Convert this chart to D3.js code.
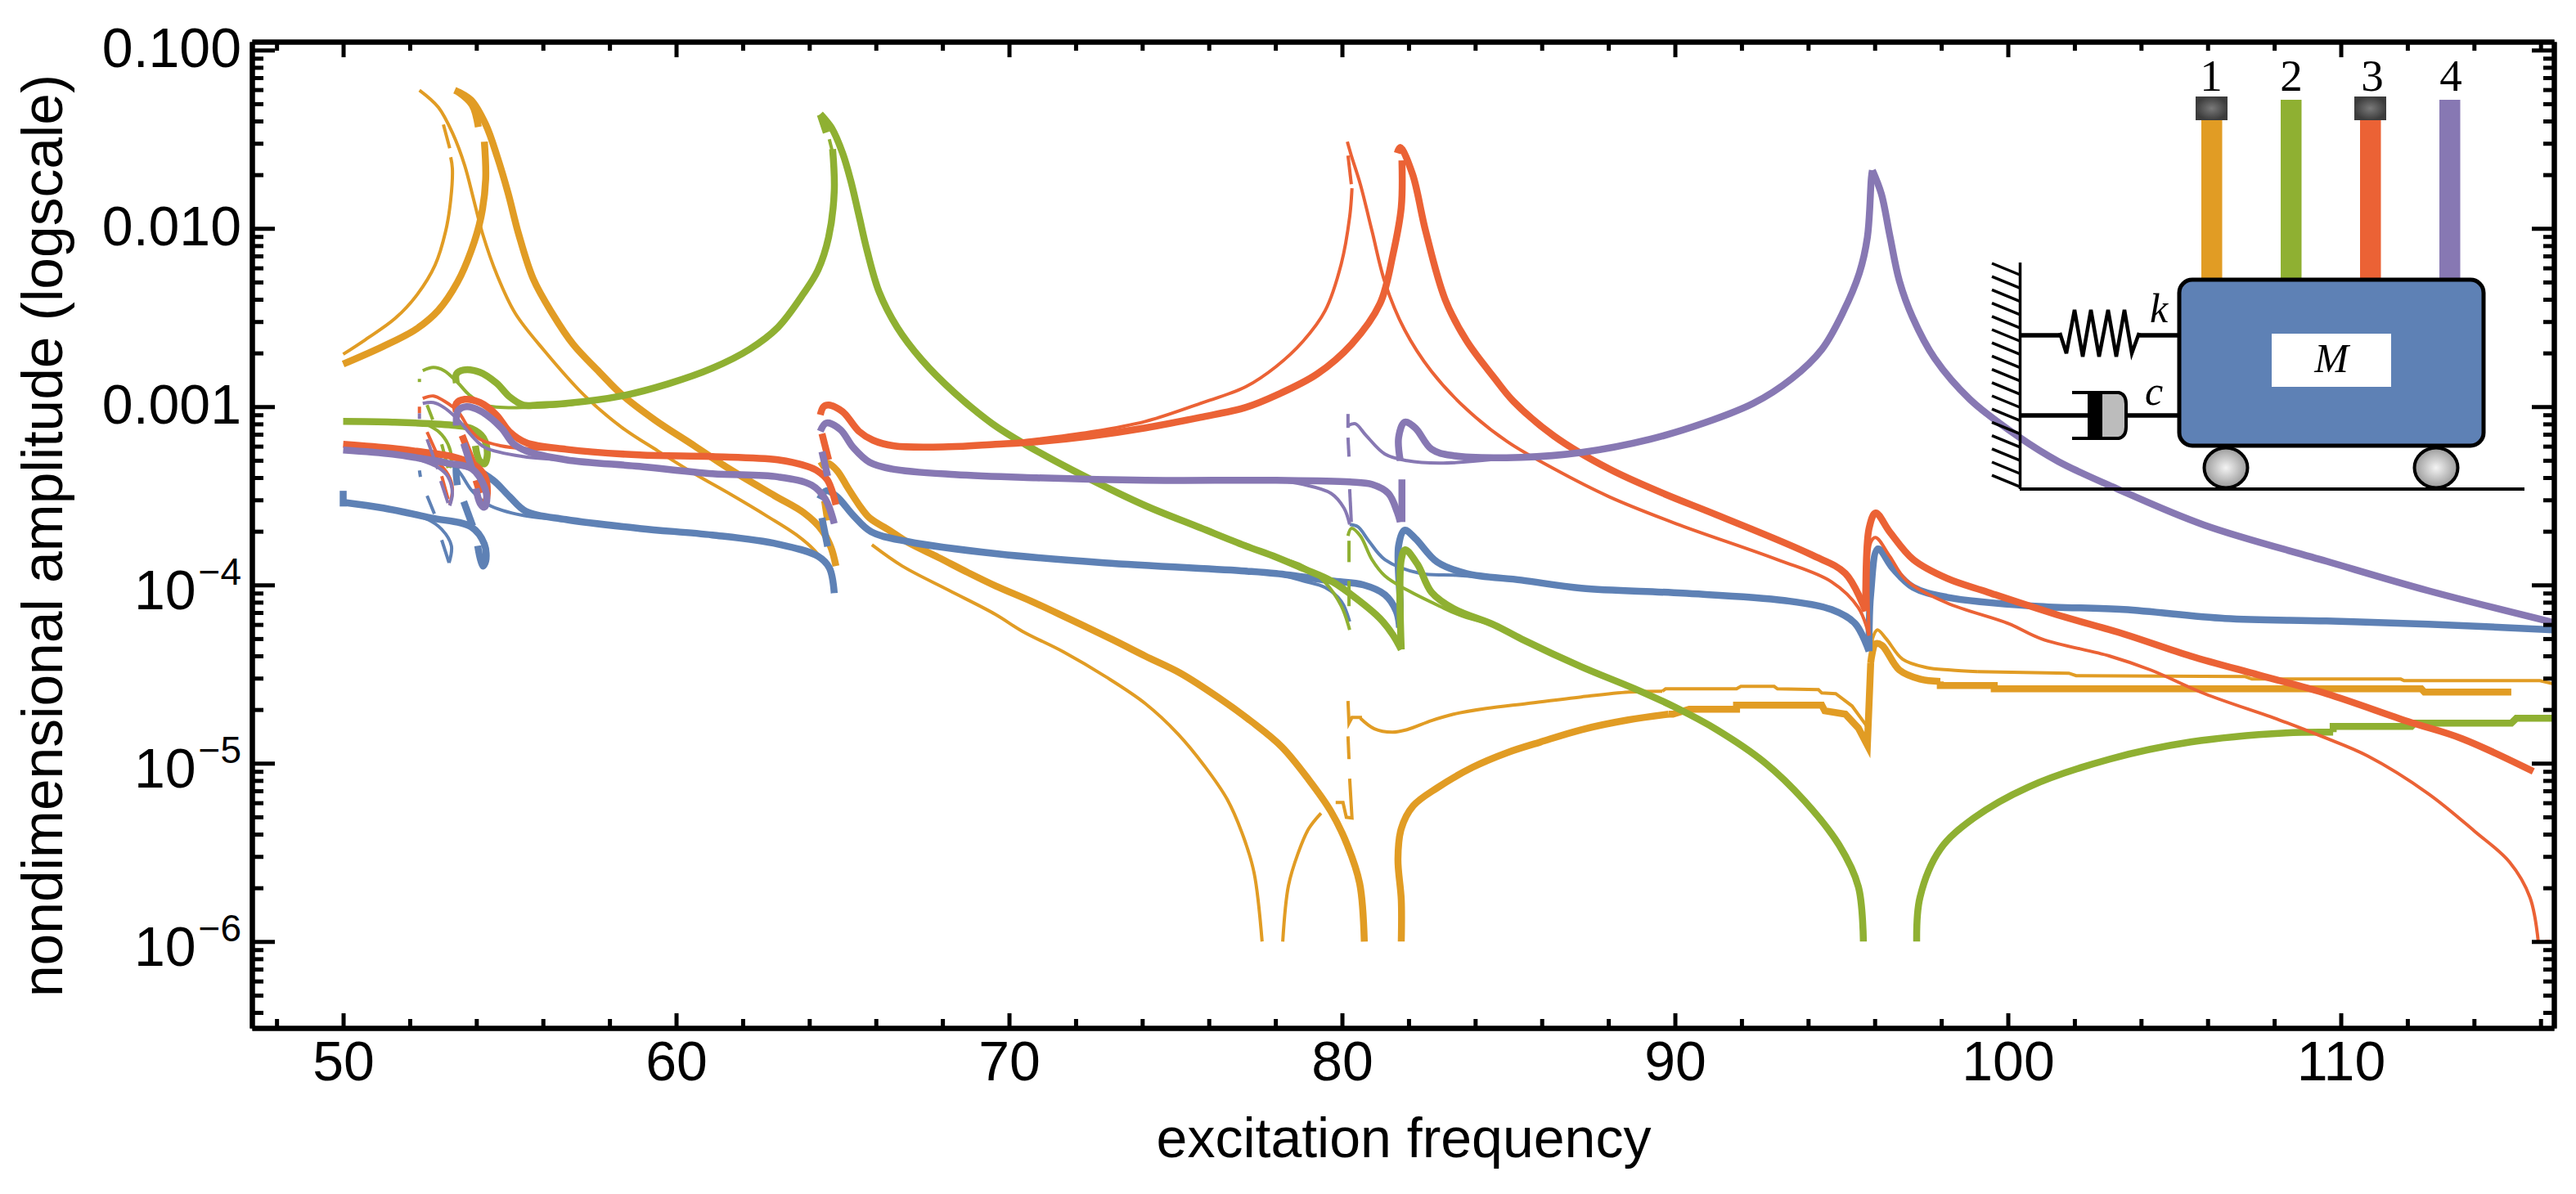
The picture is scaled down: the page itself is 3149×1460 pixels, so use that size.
<!DOCTYPE html>
<html>
<head>
<meta charset="utf-8">
<title>excitation frequency response</title>
<script src="https://cdn.jsdelivr.net/npm/d3@7"></script>
<style>
  html, body { margin: 0; padding: 0; background: #fff; }
  svg { display: block; font-family: "Liberation Sans", Arial, sans-serif; }
</style>
</head>
<body>
<div id="chart"></div>
<script>
// all points are [excitation frequency, log10(amplitude)]

var xMajor = [50, 60, 70, 80, 90, 100, 110];
var xMinor = [48, 52, 54, 56, 58, 62, 64, 66, 68, 72, 74, 76, 78, 82, 84, 86, 88, 92, 94, 96, 98, 102, 104, 106, 108, 112, 114, 116];
var yMajor = [1e-1, 1e-2, 1e-3, 1e-4, 1e-5, 1e-6];
var yLabels = ["0.100", "0.010", "0.001", "4", "5", "6"];

// colours of the four beams and the mass
var orange = "#E19C24", green = "#8FB032", red = "#EB6235", purple = "#8778B3", blue = "#5E81B5";

// ---- beam 1 (orange)
var orangeThickRise = [[50, -2.761], [51.21, -2.661], [52.20, -2.564], [52.86, -2.459], [53.43, -2.303], [53.84, -2.128], [54.14, -1.936], [54.28, -1.725], [54.24, -1.514]];
var orangeThickWedge = [[54.06, -1.431], [53.87, -1.307], [53.45, -1.234]];
var orangeThickFall = [[53.35, -1.225], [53.84, -1.280], [54.28, -1.417], [54.63, -1.600], [54.95, -1.800], [55.27, -2.032], [55.71, -2.284], [56.28, -2.477], [56.91, -2.651], [57.70, -2.807], [58.36, -2.931], [59.35, -3.073], [60.55, -3.220], [61.63, -3.353], [62.96, -3.500], [63.84, -3.596], [64.38, -3.693], [64.65, -3.789], [64.80, -3.894]];
var orangeThickAfter65 = [[64.31, -3.335], [64.55, -3.317], [64.83, -3.358], [65.17, -3.459], [65.49, -3.550], [65.81, -3.624], [66.40, -3.693], [66.96, -3.761], [67.87, -3.845], [68.76, -3.930], [69.59, -4.005], [70.65, -4.090], [71.63, -4.175], [73.11, -4.307], [74.09, -4.399], [75.15, -4.495], [76.30, -4.633], [77.28, -4.766], [78.19, -4.908], [79.00, -5.092], [79.67, -5.271], [80.16, -5.459], [80.53, -5.674], [80.67, -6]];
var orangeThickAfter82 = [[81.78, -6], [81.78, -5.766], [81.68, -5.537], [81.78, -5.367], [82.14, -5.239], [82.86, -5.138], [83.92, -5.023], [84.97, -4.940], [85.96, -4.881], [87.19, -4.812], [88.6, -4.757], [89.81, -4.725]];
var orangeThickStairs = [[89.81, -4.725], [89.94, -4.725], [90.43, -4.697], [91.85, -4.697], [91.85, -4.674], [94.41, -4.674], [94.50, -4.706], [95.12, -4.725], [95.51, -4.803], [95.78, -4.899], [95.88, -4.436]];
var orangeThickBump96 = [[95.88, -4.436], [96.03, -4.330], [96.22, -4.339], [96.74, -4.477], [97.36, -4.528], [97.97, -4.541]];
var orangeThickTail = [[97.97, -4.541], [97.97, -4.564], [99.59, -4.564], [99.59, -4.583], [112.42, -4.583], [112.51, -4.601], [115.12, -4.601]];
var orangeThickDashes = [[[64.46, -3.528], [64.55, -3.638]]];

var orangeThinRise = [[50, -2.706], [50.67, -2.624], [51.56, -2.505], [52.22, -2.372], [52.76, -2.206], [53.08, -2.014], [53.23, -1.839], [53.28, -1.665], [53.23, -1.601]];
var orangeThinFall = [[52.29, -1.225], [52.86, -1.321], [53.30, -1.472], [53.65, -1.647], [53.92, -1.839], [54.19, -2.032], [54.63, -2.266], [55.17, -2.477], [56.05, -2.688], [57.26, -2.940], [58.36, -3.115], [59.45, -3.248], [60.55, -3.376], [61.63, -3.491], [62.74, -3.615], [63.62, -3.720], [64.16, -3.807], [64.60, -3.917]];
var orangeThinAfter65 = [[65.88, -3.775], [66.79, -3.894], [68.19, -4.030], [69.59, -4.165], [70.40, -4.260], [71.63, -4.375], [72.93, -4.518], [74.09, -4.665], [75.07, -4.835], [75.88, -5.018], [76.55, -5.202], [77.04, -5.413], [77.36, -5.615], [77.60, -6]];
var orangeThinBack = [[78.22, -6], [78.39, -5.688], [78.68, -5.505], [79.00, -5.367], [79.37, -5.280]];
var orangeThinHook = [[79.81, -5.220], [80.03, -5.220], [80.13, -5.303], [80.30, -5.307], [80.23, -5.087]];
var orangeThinKink = [[80.18, -4.651], [80.21, -4.775], [80.30, -4.743], [80.60, -4.743]];
var orangeThinAfter80 = [[80.55, -4.748], [80.97, -4.807], [81.51, -4.826], [81.95, -4.812], [82.69, -4.761], [83.35, -4.725], [84.33, -4.693], [85.56, -4.665], [87.19, -4.628], [88.61, -4.601], [89.62, -4.596]];
var orangeThinStairs = [[89.62, -4.596], [89.72, -4.583], [91.85, -4.583], [91.98, -4.569], [92.98, -4.569], [93.08, -4.583], [94.31, -4.587], [94.41, -4.606], [94.83, -4.610], [95.32, -4.679], [95.73, -4.784], [95.83, -4.826], [95.93, -4.303]];
var orangeThinBump96 = [[95.93, -4.303], [96.08, -4.252], [96.35, -4.303], [96.84, -4.417], [97.55, -4.463], [98.27, -4.477], [99.08, -4.486]];
var orangeThinTail = [[99.08, -4.486], [101.83, -4.495], [102.05, -4.509], [107.13, -4.514], [107.33, -4.528], [111.80, -4.528], [111.90, -4.537], [115.98, -4.537], [116.4, -4.555]];
var orangeThinDashes = [[[53.20, -1.550], [53.01, -1.417]], [[80.21, -4.977], [80.18, -4.849]]];

// ---- beam 2 (green)
var greenThickLeft = [[50, -3.083], [51.48, -3.087], [53.38, -3.106], [53.87, -3.124], [54.21, -3.174], [54.33, -3.266], [54.24, -3.321], [54.09, -3.303], [53.97, -3.220]];
var greenThickRise = [[53.40, -2.867], [53.40, -2.817], [53.62, -2.794], [54.11, -2.807], [54.60, -2.867], [55.00, -2.945], [55.41, -2.991], [55.83, -2.991], [56.69, -2.982], [58.36, -2.940], [59.76, -2.872], [61.09, -2.784], [62.20, -2.679], [63.06, -2.555], [63.84, -2.362], [64.26, -2.234], [64.58, -2.050], [64.75, -1.789], [64.70, -1.555]];
var greenThickWedge = [[64.51, -1.463], [64.33, -1.362]];
var greenThickFall = [[64.33, -1.358], [64.68, -1.440], [65.00, -1.578], [65.24, -1.729], [65.49, -1.927], [65.74, -2.128], [66.10, -2.358], [66.64, -2.555], [67.38, -2.738], [68.36, -2.922], [69.50, -3.096], [70.48, -3.211], [72.30, -3.394], [74.09, -3.555], [75.74, -3.679], [77.09, -3.780], [78.02, -3.844], [78.83, -3.908], [79.67, -3.977], [80.48, -4.083], [81.14, -4.188], [81.53, -4.280], [81.78, -4.362]];
var greenThickAfter82 = [[81.78, -4.362], [81.78, -3.858], [81.90, -3.803], [82.27, -3.885], [82.69, -4.041], [83.35, -4.133], [84.58, -4.225], [85.39, -4.303], [87.19, -4.459], [88.80, -4.583], [90.03, -4.688], [91.26, -4.812], [92.69, -4.995], [93.89, -5.211], [94.93, -5.459], [95.51, -5.693], [95.66, -6]];
var greenThickAfter97 = [[97.26, -6], [97.36, -5.752], [97.97, -5.482], [98.98, -5.307], [100.62, -5.133], [103.06, -4.977], [105.49, -4.881], [108.34, -4.830], [109.77, -4.826]];
var greenThickTail = [[109.77, -4.826], [109.77, -4.794], [112.12, -4.794], [112.22, -4.775], [115.12, -4.775], [115.27, -4.748], [116.4, -4.748]];

var greenThinLeft = [[52.39, -2.798], [52.71, -2.780], [53.03, -2.798], [53.45, -2.867], [53.77, -2.931], [54.26, -2.991], [55.41, -3.005], [56.69, -2.991], [58.36, -2.940]];
var greenThinHook = [[52.47, -3.096], [52.88, -3.142], [53.15, -3.211], [53.25, -3.289], [53.20, -3.344]];
var greenThinTo80 = [[78.02, -3.844], [78.83, -3.894], [79.49, -3.986], [79.98, -4.119], [80.23, -4.252]];
var greenThinAfter80 = [[80.18, -3.725], [80.28, -3.683], [80.55, -3.725], [80.90, -3.858], [81.29, -3.950], [81.95, -4.028], [82.93, -4.119], [83.60, -4.174], [84.58, -4.225]];
var greenThinDashes = [[[52.29, -2.844], [52.29, -2.862]], [[52.52, -2.991], [52.69, -3.073]], [[52.96, -3.211], [53.15, -3.344]], [[64.60, -1.500], [64.68, -1.560]], [[80.21, -4.119], [80.21, -3.977]], [[80.21, -3.872], [80.21, -3.752]]];

// ---- beam 3 (red)
var redThickLeft = [[50, -3.211], [51.48, -3.234], [52.47, -3.257], [53.28, -3.280], [53.94, -3.326], [54.26, -3.394], [54.33, -3.486], [54.26, -3.550]];
var redThickTo65 = [[53.40, -3.028], [53.40, -2.982], [53.65, -2.959], [54.11, -2.977], [54.60, -3.046], [55.00, -3.142], [55.49, -3.202], [56.69, -3.239], [58.90, -3.271], [61.09, -3.280], [63.06, -3.298], [63.94, -3.335], [64.26, -3.362], [64.55, -3.413], [64.80, -3.550]];
var redThickTo82 = [[64.33, -3.046], [64.43, -3.0], [64.58, -2.991], [65.00, -3.028], [65.49, -3.138], [65.91, -3.188], [66.55, -3.220], [68.19, -3.225], [69.59, -3.211], [70.82, -3.197], [72.44, -3.165], [74.09, -3.119], [75.74, -3.060], [77.09, -3.005], [78.02, -2.936], [79.25, -2.817], [80.30, -2.647], [81.14, -2.422], [81.53, -2.147], [81.78, -1.881], [81.80, -1.619]];
var redThickFall = [[81.66, -1.578], [81.75, -1.546], [82.12, -1.697], [82.51, -2.014], [83.10, -2.400], [83.74, -2.630], [84.58, -2.840], [85.15, -2.970], [86.37, -3.165], [88.02, -3.349], [89.64, -3.486], [91.24, -3.606], [94.09, -3.830], [95.12, -3.936], [95.73, -4.147]];
var redThickAfter96 = [[95.73, -4.147], [95.83, -3.683], [96.03, -3.596], [96.45, -3.702], [97.16, -3.858], [98.17, -3.963], [99.40, -4.041], [101.44, -4.165], [103.48, -4.275], [105.49, -4.399], [107.53, -4.505], [109.57, -4.610], [112.02, -4.766], [113.64, -4.862], [115.78, -5.046]];
var redThickDashes = [[[53.57, -3.161], [53.94, -3.335]], [[53.99, -3.413], [54.11, -3.486]], [[64.38, -3.151], [64.58, -3.298]]];

var redThinLeft = [[52.39, -2.954], [52.71, -2.940], [53.03, -2.968], [53.45, -3.028], [53.77, -3.119], [54.11, -3.183], [54.75, -3.220], [55.41, -3.234], [56.69, -3.239]];
var redThinHook = [[51.48, -3.234], [52.29, -3.257], [52.88, -3.321], [53.15, -3.381], [53.28, -3.459], [53.20, -3.550]];
var redThinTo80 = [[69.59, -3.211], [72.44, -3.142], [74.09, -3.083], [75.74, -2.982], [77.09, -2.890], [78.02, -2.775], [78.83, -2.633], [79.49, -2.463], [79.98, -2.197], [80.23, -1.936], [80.30, -1.775]];
var redThinFall = [[80.16, -1.514], [80.28, -1.592], [80.55, -1.752], [80.90, -2.014], [81.29, -2.303], [81.88, -2.569], [82.69, -2.803], [83.74, -3.014], [84.97, -3.197], [86.37, -3.349], [88.02, -3.505], [90.03, -3.656], [93.08, -3.858], [94.70, -3.982], [95.51, -4.128], [95.83, -4.284]];
var redThinAfter96 = [[95.83, -4.284], [95.88, -3.761], [96.03, -3.734], [96.45, -3.839], [96.94, -3.972], [98.17, -4.101], [100.01, -4.216], [101.02, -4.303], [103.06, -4.399], [104.29, -4.477], [105.91, -4.610], [108.15, -4.757], [109.47, -4.853], [110.80, -4.959], [112.62, -5.170], [114.04, -5.385], [115.07, -5.555], [115.68, -5.752], [115.93, -6]];
var redThinDashes = [[[52.29, -3.0], [52.29, -3.037]], [[52.52, -3.142], [52.84, -3.275]], [[52.96, -3.390], [53.15, -3.518]], [[80.28, -1.752], [80.18, -1.592]], [[116.13, -6], [116.30, -6]]];

// ---- beam 4 (purple)
var purpleThickLeft = [[50, -3.243], [51.48, -3.266], [52.29, -3.289], [53.13, -3.317], [53.87, -3.349], [54.26, -3.459], [54.31, -3.532], [54.24, -3.564], [54.11, -3.541], [53.99, -3.459]];
var purpleThickTo65 = [[53.40, -3.106], [53.45, -3.023], [53.70, -3.0], [54.11, -3.023], [54.75, -3.119], [55.10, -3.206], [55.49, -3.248], [56.69, -3.298], [58.90, -3.335], [61.09, -3.376], [63.06, -3.394], [64.07, -3.440], [64.48, -3.518], [64.75, -3.656]];
var purpleThickTo82 = [[64.33, -3.138], [64.51, -3.092], [64.93, -3.128], [65.32, -3.229], [65.81, -3.312], [66.47, -3.349], [68.36, -3.381], [70.82, -3.399], [74.09, -3.413], [78.02, -3.413], [80.23, -3.422], [80.90, -3.436], [81.39, -3.486], [81.66, -3.592], [81.75, -3.647]];
var purpleThickRise = [[81.75, -3.303], [81.70, -3.174], [81.88, -3.087], [82.20, -3.119], [82.69, -3.239], [83.35, -3.275], [85.39, -3.284], [87.19, -3.257], [89.25, -3.183], [90.87, -3.092], [92.35, -2.982], [93.50, -2.844], [94.41, -2.679], [95.05, -2.470], [95.54, -2.250], [95.78, -2.050], [95.90, -1.716], [95.93, -1.674]];
var purpleThickFall = [[95.93, -1.674], [96.20, -1.807], [96.45, -2.037], [96.74, -2.294], [97.14, -2.500], [97.80, -2.729], [98.86, -2.959], [100.33, -3.170], [101.51, -3.307], [103.26, -3.459], [105.91, -3.665], [109.57, -3.867], [112.62, -4.032], [116.4, -4.211]];
var purpleThickDashes = [[[53.62, -3.206], [53.87, -3.349]], [[64.38, -3.252], [64.55, -3.390]], [[81.80, -3.408], [81.80, -3.647]]];

var purpleThinLeft = [[52.39, -2.982], [52.71, -2.977], [53.03, -3.005], [53.45, -3.073], [53.87, -3.165], [54.26, -3.229], [55.41, -3.280], [56.69, -3.298]];
var purpleThinHook = [[51.48, -3.266], [52.29, -3.298], [52.88, -3.344], [53.15, -3.394], [53.28, -3.486], [53.20, -3.555]];
var purpleThinTo80 = [[78.02, -3.413], [78.83, -3.436], [79.67, -3.486], [80.06, -3.569], [80.23, -3.661]];
var purpleThinAfter80 = [[80.18, -3.106], [80.40, -3.096], [80.72, -3.161], [81.29, -3.266], [81.95, -3.303], [82.93, -3.317], [84.66, -3.294]];
var purpleThinDashes = [[[52.29, -3.037], [52.29, -3.069]], [[52.52, -3.183], [52.84, -3.349]], [[52.93, -3.417], [53.15, -3.541]], [[80.28, -3.647], [80.23, -3.463]], [[80.21, -3.280], [80.18, -3.174]], [[80.18, -3.119], [80.18, -3.041]]];

// ---- mass (blue)
var blueThickLeft = [[50, -3.537], [51.21, -3.569], [52.64, -3.624], [53.84, -3.674], [54.24, -3.771], [54.28, -3.867], [54.19, -3.894], [54.04, -3.780]];
var blueThickTo65 = [[53.43, -3.440], [53.40, -3.335], [53.45, -3.326], [53.94, -3.349], [54.51, -3.413], [55.00, -3.505], [55.49, -3.587], [56.69, -3.633], [58.90, -3.683], [61.09, -3.720], [63.06, -3.771], [64.26, -3.839], [64.60, -3.904], [64.75, -4.046]];
var blueThickTo82 = [[64.31, -3.518], [64.51, -3.472], [64.83, -3.505], [65.32, -3.610], [65.86, -3.702], [66.96, -3.757], [69.66, -3.826], [72.86, -3.876], [77.09, -3.922], [78.02, -3.936], [79.67, -3.977], [80.65, -4.0], [81.29, -4.055], [81.63, -4.147], [81.73, -4.239]];
var blueThickTo96 = [[81.73, -4.239], [81.75, -4.119], [81.70, -3.780], [81.88, -3.693], [82.20, -3.739], [82.86, -3.872], [83.74, -3.936], [85.39, -3.973], [87.19, -4.018], [90.23, -4.046], [93.28, -4.087], [94.70, -4.138], [95.41, -4.216], [95.83, -4.372]];
var blueThickAfter96 = [[95.83, -4.372], [95.88, -4.050], [96.10, -3.798], [96.55, -3.908], [97.16, -4.014], [98.17, -4.069], [100.82, -4.119], [103.48, -4.138], [106.52, -4.188], [109.57, -4.202], [112.62, -4.220], [116.4, -4.252]];
var blueThickDashes = [[[50, -3.472], [50, -3.56]], [[53.62, -3.532], [53.89, -3.670]], [[64.38, -3.624], [64.55, -3.784]]];

var blueThinLeft = [[52.42, -3.280], [53.03, -3.303], [53.45, -3.358], [53.87, -3.472], [54.36, -3.550], [55.41, -3.610], [56.69, -3.633]];
var blueThinHook = [[51.21, -3.569], [52.54, -3.633], [52.96, -3.688], [53.25, -3.780], [53.18, -3.876]];
var blueThinTo80 = [[78.02, -3.936], [78.83, -3.977], [79.49, -4.014], [79.98, -4.092], [80.23, -4.206]];
var blueThinAfter80 = [[80.23, -3.661], [80.48, -3.674], [80.80, -3.752], [81.29, -3.858], [82.37, -3.936], [83.35, -3.945], [85.39, -3.973]];
var blueThinDashes = [[[52.96, -3.748], [53.18, -3.876]], [[52.52, -3.5], [52.74, -3.601]], [[52.29, -3.358], [52.32, -3.394]]];

// set the dimensions and margins of the graph
var margin = { top: 51, right: 27, bottom: 203, left: 308 },
    width = 3149 - margin.left - margin.right,
    height = 1460 - margin.top - margin.bottom;

// append the svg object to the body of the page
var root = d3.select("#chart")
    .append("svg")
    .attr("width", 3149)
    .attr("height", 1460);

var svg = root.append("g")
    .attr("transform", "translate(" + margin.left + "," + margin.top + ")");

var x = d3.scaleLinear()
    .domain([47.26, 116.4])
    .range([0, width]);

var y = d3.scaleLog()
    .domain([Math.pow(10, -6.485), Math.pow(10, -0.953)])
    .range([height, 0]);

var yMinor = y.ticks().filter(function (d) {
    return yMajor.every(function (m) { return Math.abs(m - d) / m > 1e-6; });
});

svg.append("defs").append("clipPath")
    .attr("id", "plot-clip")
    .append("rect")
    .attr("width", width)
    .attr("height", height);

// curves are smooth, the stepped parts are joined straight
var smooth = d3.line()
    .x(function (d) { return x(d[0]); })
    .y(function (d) { return y(Math.pow(10, d[1])); })
    .curve(d3.curveCatmullRom.alpha(0.5));

var straight = d3.line()
    .x(function (d) { return x(d[0]); })
    .y(function (d) { return y(Math.pow(10, d[1])); });

var THICK = 8.5, THIN = 4;

function group(color, w, smoothParts, straightParts) {
    return { color: color, w: w, smoothParts: smoothParts, straightParts: straightParts };
}

// drawing order: what comes later lies on top
var groups = [
    group(orange, THIN, [orangeThinRise, orangeThinFall, orangeThinAfter65, orangeThinBack, orangeThinAfter80, orangeThinBump96],
        orangeThinDashes.concat([orangeThinHook, orangeThinKink, orangeThinStairs, orangeThinTail])),
    group(orange, THICK, [orangeThickRise, orangeThickWedge, orangeThickFall, orangeThickAfter65, orangeThickAfter82, orangeThickBump96],
        orangeThickDashes.concat([orangeThickStairs, orangeThickTail])),
    group(blue, THIN, [blueThinLeft, blueThinHook, blueThinTo80, blueThinAfter80], blueThinDashes),
    group(blue, THICK, [blueThickLeft, blueThickTo65, blueThickTo82, blueThickTo96, blueThickAfter96], blueThickDashes),
    group(green, THIN, [greenThinLeft, greenThinHook, greenThinTo80, greenThinAfter80], greenThinDashes),
    group(green, THICK, [greenThickLeft, greenThickRise, greenThickFall, greenThickAfter82, greenThickAfter97],
        [greenThickWedge, greenThickTail]),
    group(red, THIN, [redThinLeft, redThinHook, redThinTo80, redThinFall, redThinAfter96], redThinDashes),
    group(red, THICK, [redThickLeft, redThickTo65, redThickTo82, redThickFall, redThickAfter96], redThickDashes),
    group(purple, THIN, [purpleThinLeft, purpleThinHook, purpleThinTo80, purpleThinAfter80], purpleThinDashes),
    group(purple, THICK, [purpleThickLeft, purpleThickTo65, purpleThickTo82, purpleThickRise, purpleThickFall], purpleThickDashes)
];

var plot = svg.append("g").attr("clip-path", "url(#plot-clip)");

groups.forEach(function (g) {
    plot.selectAll(null)
        .data(g.smoothParts)
        .enter()
        .append("path")
        .attr("d", smooth)
        .attr("fill", "none")
        .attr("stroke", g.color)
        .attr("stroke-width", g.w)
        .attr("stroke-linejoin", "round");
    plot.selectAll(null)
        .data(g.straightParts)
        .enter()
        .append("path")
        .attr("d", straight)
        .attr("fill", "none")
        .attr("stroke", g.color)
        .attr("stroke-width", g.w)
        .attr("stroke-linejoin", "miter");
});

// axes: ticks point inward on all four sides, only left and bottom get labels
function styleAxis(sel) {
    sel.selectAll(".domain").attr("stroke", "#000").attr("stroke-width", 6);
    sel.selectAll(".tick line").attr("stroke", "#000").attr("stroke-width", 5);
    sel.selectAll("text").attr("fill", "#000").attr("font-family", "Liberation Sans").attr("font-size", 68);
}

var noLabel = function () { return ""; };

svg.append("g")
    .attr("transform", "translate(0," + height + ")")
    .call(d3.axisBottom(x).tickValues(xMajor).tickSize(-18).tickSizeOuter(0).tickPadding(16).tickFormat(function (d) { return d; }))
    .call(styleAxis);

svg.append("g")
    .attr("transform", "translate(0," + height + ")")
    .call(d3.axisBottom(x).tickValues(xMinor).tickSize(-11).tickSizeOuter(0).tickFormat(noLabel))
    .call(styleAxis);

svg.append("g")
    .call(d3.axisTop(x).tickValues(xMajor).tickSize(-19).tickSizeOuter(0).tickFormat(noLabel))
    .call(styleAxis);

svg.append("g")
    .call(d3.axisTop(x).tickValues(xMinor).tickSize(-11).tickSizeOuter(0).tickFormat(noLabel))
    .call(styleAxis);

var leftAxis = svg.append("g")
    .call(d3.axisLeft(y).tickValues(yMajor).tickSize(-28).tickSizeOuter(0).tickPadding(13).tickFormat(noLabel))
    .call(styleAxis);

svg.append("g")
    .call(d3.axisLeft(y).tickValues(yMinor).tickSize(-14).tickSizeOuter(0).tickFormat(noLabel))
    .call(styleAxis);

svg.append("g")
    .attr("transform", "translate(" + width + ",0)")
    .call(d3.axisRight(y).tickValues(yMajor).tickSize(-27).tickSizeOuter(0).tickFormat(noLabel))
    .call(styleAxis);

svg.append("g")
    .attr("transform", "translate(" + width + ",0)")
    .call(d3.axisRight(y).tickValues(yMinor).tickSize(-13).tickSizeOuter(0).tickFormat(noLabel))
    .call(styleAxis);

// the small decades are written as powers of ten, with a raised exponent
leftAxis.selectAll(".tick text").each(function (d, i) {
    var t = d3.select(this).attr("dy", null).attr("dominant-baseline", null);
    if (i < 3) {
        t.attr("y", 20).text(yLabels[i]);
    } else {
        t.attr("y", 29);
        t.append("tspan").text("10");
        t.append("tspan").attr("font-size", 46).attr("dy", -30).attr("dx", 3).text("\u2212" + yLabels[i]);
    }
});

// axis titles
root.append("text")
    .attr("x", 1716)
    .attr("y", 1415)
    .attr("text-anchor", "middle")
    .attr("font-size", 68)
    .text("excitation frequency");

root.append("text")
    .attr("transform", "translate(76,655) rotate(-90)")
    .attr("text-anchor", "middle")
    .attr("font-size", 69.5)
    .text("nondimensional amplitude (logscale)");

// ---- the sketch of the structure in the upper right corner
var inset = root.append("g");
var defs = root.append("defs");

var wheelGrad = defs.append("radialGradient").attr("id", "wheel");
wheelGrad.append("stop").attr("offset", "0%").attr("stop-color", "#f4f4f4");
wheelGrad.append("stop").attr("offset", "100%").attr("stop-color", "#9a9a9a");

var blockGrad = defs.append("radialGradient").attr("id", "block");
blockGrad.append("stop").attr("offset", "0%").attr("stop-color", "#7a7a7a");
blockGrad.append("stop").attr("offset", "100%").attr("stop-color", "#3c3c3c");

var shadow = defs.append("filter").attr("id", "soft");
shadow.append("feGaussianBlur").attr("stdDeviation", 1.5);

var beamX = [2691, 2788, 2885, 2982];
var beamColor = [orange, green, red, purple];
var beamTop = [147, 122, 147, 122];
var beamName = ["1", "2", "3", "4"];
var nameX = [2703, 2801, 2900, 2996];

inset.selectAll(".beam")
    .data(beamX)
    .enter()
    .append("rect")
    .attr("x", function (d) { return d; })
    .attr("y", function (d, i) { return beamTop[i]; })
    .attr("width", 25.5)
    .attr("height", function (d, i) { return 344 - beamTop[i]; })
    .attr("fill", function (d, i) { return beamColor[i]; });

inset.selectAll(".tipblock")
    .data([2684, 2878])
    .enter()
    .append("rect")
    .attr("x", function (d) { return d; })
    .attr("y", 118)
    .attr("width", 39)
    .attr("height", 29)
    .attr("fill", "url(#block)");

inset.selectAll(".beamname")
    .data(beamName)
    .enter()
    .append("text")
    .attr("x", function (d, i) { return nameX[i]; })
    .attr("y", 111)
    .attr("text-anchor", "middle")
    .attr("font-family", "Liberation Serif")
    .attr("font-size", 55)
    .text(function (d) { return d; });

// wall with hatching, and the floor
inset.append("line").attr("x1", 2470).attr("x2", 3085).attr("y1", 602).attr("y2", 602)
    .attr("stroke", "#b5b5b5").attr("stroke-width", 5).attr("filter", "url(#soft)");
inset.append("line").attr("x1", 2469).attr("x2", 3086).attr("y1", 598).attr("y2", 598)
    .attr("stroke", "#000").attr("stroke-width", 4);
inset.append("line").attr("x1", 2469.5).attr("x2", 2469.5).attr("y1", 321).attr("y2", 598)
    .attr("stroke", "#000").attr("stroke-width", 3.5);
inset.selectAll(".hatch")
    .data(d3.range(17))
    .enter()
    .append("line")
    .attr("x1", 2435)
    .attr("x2", 2469)
    .attr("y1", function (i) { return 322 + i * 16.2; })
    .attr("y2", function (i) { return 336 + i * 16.2; })
    .attr("stroke", "#000")
    .attr("stroke-width", 3.5);

// spring
inset.append("polyline")
    .attr("points", "2518,407 2526,432 2536,379 2546,436 2556,379 2566,436 2577,379 2587,436 2597,379 2606,432 2615,407")
    .attr("fill", "none")
    .attr("stroke", "#000")
    .attr("stroke-width", 4.5);
inset.selectAll(".springrod")
    .data([[2469, 2518], [2615, 2664]])
    .enter()
    .append("line")
    .attr("x1", function (d) { return d[0]; })
    .attr("x2", function (d) { return d[1]; })
    .attr("y1", 410)
    .attr("y2", 410)
    .attr("stroke", "#000")
    .attr("stroke-width", 5.5);

// damper
inset.append("line").attr("x1", 2469).attr("x2", 2552).attr("y1", 508).attr("y2", 508)
    .attr("stroke", "#000").attr("stroke-width", 5.5);
inset.append("line").attr("x1", 2598).attr("x2", 2664).attr("y1", 508).attr("y2", 508)
    .attr("stroke", "#000").attr("stroke-width", 5.5);
inset.append("path")
    .attr("d", "M2568,480 H2590 Q2599,482 2599,494 V522 Q2599,534 2590,536 H2568 Z")
    .attr("fill", "#bcbcbc")
    .attr("stroke", "#000")
    .attr("stroke-width", 4);
inset.append("line").attr("x1", 2533).attr("x2", 2568).attr("y1", 480).attr("y2", 480)
    .attr("stroke", "#000").attr("stroke-width", 4);
inset.append("line").attr("x1", 2533).attr("x2", 2568).attr("y1", 536).attr("y2", 536)
    .attr("stroke", "#000").attr("stroke-width", 4);
inset.append("rect").attr("x", 2552).attr("y", 480).attr("width", 16).attr("height", 56).attr("fill", "#000");

// mass with its wheels
inset.selectAll(".wheel")
    .data([2721, 2978])
    .enter()
    .append("ellipse")
    .attr("cx", function (d) { return d; })
    .attr("cy", 572)
    .attr("rx", 26.5)
    .attr("ry", 24.5)
    .attr("fill", "url(#wheel)")
    .attr("stroke", "#000")
    .attr("stroke-width", 4);

inset.append("rect")
    .attr("x", 2664).attr("y", 342)
    .attr("width", 372).attr("height", 203)
    .attr("rx", 16).attr("ry", 16)
    .attr("fill", blue)
    .attr("stroke", "#000")
    .attr("stroke-width", 5);

inset.append("rect")
    .attr("x", 2777).attr("y", 408)
    .attr("width", 146).attr("height", 65)
    .attr("fill", "#fff");

function symbol(label, px, py) {
    inset.append("text")
        .attr("x", px)
        .attr("y", py)
        .attr("text-anchor", "middle")
        .attr("font-family", "Liberation Serif")
        .attr("font-style", "italic")
        .attr("font-size", 50)
        .text(label);
}
symbol("M", 2850, 455);
symbol("k", 2639, 394);
symbol("c", 2633, 495);
</script>
</body>
</html>
